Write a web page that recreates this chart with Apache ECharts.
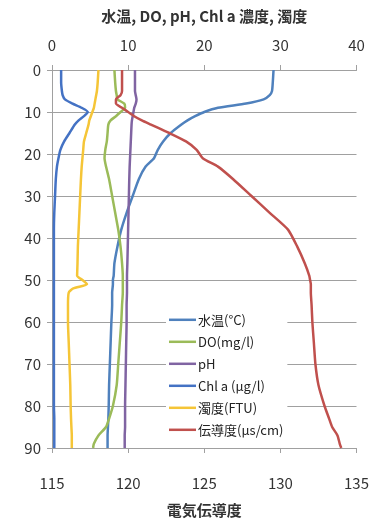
<!DOCTYPE html>
<html><head><meta charset="utf-8">
<script src="https://cdn.jsdelivr.net/npm/echarts@6/dist/echarts.min.js"></script>
<style>html,body{margin:0;padding:0;background:#fff}#c{width:372px;height:523px}</style>
</head><body><div id="c"></div>
<script>
const depths = [0, 3, 5, 6, 7, 8, 9, 10, 11, 12, 13, 15, 17, 19, 21, 23, 26, 30, 34, 38, 42, 46, 49, 50, 51, 52, 53, 56, 60, 65, 70, 75, 80, 83, 85, 87, 89, 90];
const temp  = [29.1, 29.0, 28.9, 28.6, 27.8, 25.5, 21.8, 20.0, 18.8, 17.8, 17.0, 15.6, 14.6, 13.9, 13.4, 12.3, 11.4, 10.6, 9.8, 9.1, 8.6, 8.2, 8.1, 8.0, 8.0, 7.95, 7.9, 7.9, 7.8, 7.7, 7.6, 7.5, 7.45, 7.4, 7.35, 7.3, 7.3, 7.3];
const doVal = [8.2, 8.3, 8.4, 8.5, 8.6, 9.5, 9.6, 9.0, 8.4, 7.7, 7.4, 7.3, 7.2, 7.0, 6.9, 7.1, 7.5, 7.9, 8.3, 8.7, 9.0, 9.2, 9.3, 9.3, 9.3, 9.3, 9.3, 9.2, 9.1, 8.9, 8.7, 8.5, 8.0, 7.5, 7.1, 6.1, 5.5, 5.4];
const ph    = [10.9, 10.9, 10.9, 11.0, 11.1, 11.0, 10.8, 10.7, 10.6, 10.5, 10.45, 10.4, 10.35, 10.3, 10.25, 10.2, 10.15, 10.1, 10.05, 10.0, 9.95, 9.9, 9.85, 9.85, 9.85, 9.85, 9.85, 9.8, 9.8, 9.75, 9.7, 9.65, 9.6, 9.6, 9.6, 9.55, 9.55, 9.55];
const chla  = [1.2, 1.2, 1.3, 1.4, 1.7, 2.7, 3.9, 4.7, 4.2, 3.5, 3.0, 2.3, 1.6, 1.1, 0.85, 0.65, 0.5, 0.4, 0.3, 0.25, 0.25, 0.25, 0.25, 0.25, 0.25, 0.25, 0.25, 0.25, 0.25, 0.25, 0.25, 0.25, 0.25, 0.3, 0.3, 0.3, 0.3, 0.3];
const turb  = [6.1, 6.0, 5.9, 5.8, 5.7, 5.6, 5.5, 5.3, 5.1, 4.9, 4.8, 4.5, 4.2, 4.1, 4.0, 3.9, 3.8, 3.7, 3.6, 3.5, 3.4, 3.35, 3.3, 4.0, 4.6, 2.8, 2.2, 2.1, 2.1, 2.2, 2.3, 2.4, 2.45, 2.5, 2.55, 2.6, 2.6, 2.6];
const cond  = [119.6, 119.6, 119.6, 119.5, 119.2, 119.2, 119.6, 120.0, 120.4, 120.9, 121.5, 122.7, 123.8, 124.5, 124.9, 125.9, 126.9, 128.1, 129.3, 130.5, 131.1, 131.6, 131.9, 131.95, 132.0, 132.0, 132.0, 132.05, 132.1, 132.2, 132.3, 132.5, 132.9, 133.2, 133.4, 133.75, 133.9, 134.0];
const names = ['水温(°C)', 'DO(mg/l)', 'pH', 'Chl a (μg/l)', '濁度(FTU)', '伝導度(μs/cm)'];
const colors = ['#4F81BD', '#9BBB59', '#8064A2', '#4472C4', '#F5C537', '#C0504D'];
const topTitle = '水温, DO, pH, Chl a 濃度, 濁度';
const bottomTitle = '電気伝導度';

const font = '"Noto Sans CJK JP", "Noto Sans", sans-serif';
const pair = arr => arr.map((v, i) => [v, depths[i]]);
const values = [temp, doVal, ph, chla, turb, cond];
const axisLine = {show: true, lineStyle: {color: '#a0a0a0', width: 1}};
const axisTick = {show: true, inside: false, length: 5, lineStyle: {color: '#a0a0a0'}};
const label = {color: '#333', fontSize: 15, fontFamily: font};

const chart = echarts.init(document.getElementById('c'), null, {renderer: 'canvas'});
chart.setOption({
  animation: false,
  backgroundColor: '#fff',
  grid: {left: 52, right: 13, top: 70, bottom: 68, containLabel: false},
  legend: {
    orient: 'vertical', left: 166, top: 308,
    backgroundColor: '#fff', padding: [3, 4, 6, 3],
    itemWidth: 27, itemHeight: 2.5, itemGap: 4.4,
    textStyle: {fontSize: 13, fontFamily: font, color: '#222', padding: [0, 0, 0, -3], lineHeight: 17.6},
    data: names.map(n => ({name: n, icon: 'rect'})),
    itemStyle: {borderWidth: 0},
  },
  xAxis: [
    {type: 'value', position: 'top', min: 0, max: 40, interval: 10,
     name: topTitle, nameLocation: 'middle', nameGap: 46,
     nameTextStyle: {fontSize: 15, fontWeight: 'bold', fontFamily: font, color: '#333'},
     axisLine, axisTick, axisLabel: Object.assign({margin: 17}, label), splitLine: {show: false}},
    {type: 'value', position: 'bottom', min: 115, max: 135, interval: 5,
     name: bottomTitle, nameLocation: 'middle', nameGap: 55,
     nameTextStyle: {fontSize: 15, fontWeight: 'bold', fontFamily: font, color: '#333'},
     axisLine, axisTick, axisLabel: Object.assign({margin: 28}, label), splitLine: {show: false}}
  ],
  yAxis: {type: 'value', inverse: true, min: 0, max: 90, interval: 10,
    axisLine, axisTick, axisLabel: Object.assign({margin: 11}, label),
    splitLine: {show: true, lineStyle: {color: '#a0a0a0', width: 1}}},
  series: values.map((arr, i) => ({
    name: names[i], type: 'line', xAxisIndex: i === 5 ? 1 : 0,
    data: pair(arr), symbol: 'none', smooth: 0.2,
    lineStyle: {color: colors[i], width: 2.5, join: 'round'},
    itemStyle: {color: colors[i]}, z: 2
  }))
});
</script></body></html>
